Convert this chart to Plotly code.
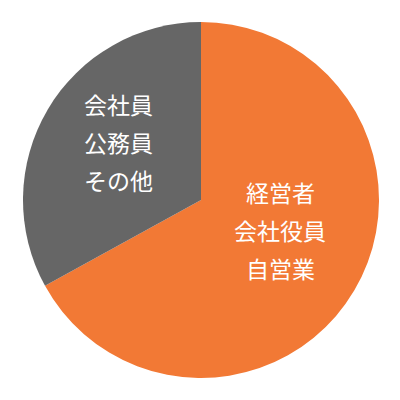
import plotly.graph_objects as go

# data
labels = ["経営者・会社役員・自営業", "会社員・公務員・その他"]
values = [67, 33]
label_lines = [["経営者", "会社役員", "自営業"], ["会社員", "公務員", "その他"]]
colors = ["#F27935", "#666666"]

# the page body adds an 8px offset, so positions are shifted back by it
off = 8
label_pos = [(280 - off, 192 - off), (118 - off, 104 - off)]
line_gap = 38

fig = go.Figure(go.Pie(
    labels=labels,
    values=values,
    sort=False,
    direction="clockwise",
    rotation=0,
    marker=dict(colors=colors, line=dict(width=0)),
    textinfo="none",
    hoverinfo="label+percent",
    domain=dict(x=[(23 - off) / 400, (379 - off) / 400],
                y=[1 - (378 - off) / 400, 1 - (22 - off) / 400]),
))

annos = []
for lines, (px, py) in zip(label_lines, label_pos):
    for i, line in enumerate(lines):
        annos.append(dict(
            x=px / 400, y=1 - (py + i * line_gap) / 400,
            xref="paper", yref="paper",
            text=line, showarrow=False,
            xanchor="center", yanchor="middle",
            font=dict(family="Noto Sans CJK JP", size=23, color="white"),
        ))

fig.update_layout(
    width=400, height=400,
    margin=dict(l=0, r=0, t=0, b=0),
    paper_bgcolor="white",
    showlegend=False,
    annotations=annos,
)

fig.write_html("out.html")
